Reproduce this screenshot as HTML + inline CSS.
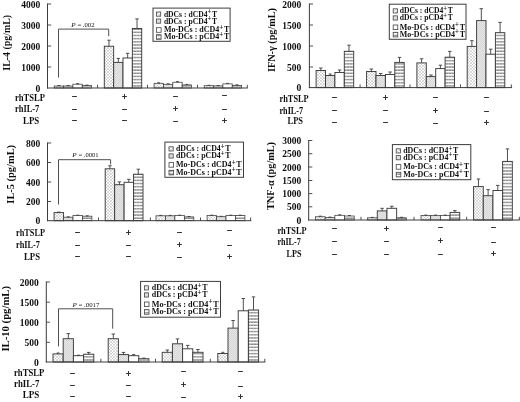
<!DOCTYPE html>
<html><head><meta charset="utf-8"><title>Cytokine production figure</title>
<style>html,body{margin:0;padding:0;background:#fff}svg{display:block}text{font-family:"Liberation Serif","DejaVu Serif",serif;fill:#111}</style></head><body>
<svg width="520" height="402" viewBox="0 0 520 402">
<defs>
<pattern id="p1" width="3" height="3" patternUnits="userSpaceOnUse"><rect width="3" height="3" fill="#fff"/><path d="M0 0L3 3M3 0L0 3" stroke="#a2a2a2" stroke-width="0.4"/></pattern>
<pattern id="p2" width="2" height="2" patternUnits="userSpaceOnUse"><rect width="2" height="2" fill="#e6e6e6"/><rect width="1" height="1" fill="#d6d6d6"/><rect x="1" y="1" width="1" height="1" fill="#d6d6d6"/></pattern>
<pattern id="p4" width="3" height="3.15" patternUnits="userSpaceOnUse"><rect width="3" height="3.15" fill="#fff"/><rect y="0.2" width="3" height="1.4" fill="#8a8a8a"/><rect x="1.1" y="0.2" width="0.7" height="1.4" fill="#b8b8b8"/></pattern>
<filter id="soft" x="0" y="0" width="520" height="402" filterUnits="userSpaceOnUse"><feGaussianBlur stdDeviation="0.38"/></filter>
</defs>
<rect width="520" height="402" fill="#fff"/>
<g filter="url(#soft)">
<rect x="54.20" y="86.00" width="9.35" height="2.00" fill="url(#p1)" stroke="#3c3c3c" stroke-width="0.75"/>
<line x1="58.88" y1="86.00" x2="58.88" y2="85.50" stroke="#3c3c3c" stroke-width="0.9"/>
<line x1="57.38" y1="85.50" x2="60.38" y2="85.50" stroke="#3c3c3c" stroke-width="0.9"/>
<rect x="63.55" y="86.00" width="9.35" height="2.00" fill="url(#p2)" stroke="#3c3c3c" stroke-width="0.75"/>
<line x1="68.23" y1="86.00" x2="68.23" y2="85.50" stroke="#3c3c3c" stroke-width="0.9"/>
<line x1="66.73" y1="85.50" x2="69.73" y2="85.50" stroke="#3c3c3c" stroke-width="0.9"/>
<rect x="72.90" y="84.20" width="9.35" height="3.80" fill="#fff" stroke="#3c3c3c" stroke-width="0.75"/>
<line x1="77.58" y1="84.20" x2="77.58" y2="83.70" stroke="#3c3c3c" stroke-width="0.9"/>
<line x1="76.08" y1="83.70" x2="79.08" y2="83.70" stroke="#3c3c3c" stroke-width="0.9"/>
<rect x="82.25" y="85.60" width="9.35" height="2.40" fill="url(#p4)" stroke="#3c3c3c" stroke-width="0.75"/>
<line x1="86.92" y1="85.60" x2="86.92" y2="85.10" stroke="#3c3c3c" stroke-width="0.9"/>
<line x1="85.42" y1="85.10" x2="88.42" y2="85.10" stroke="#3c3c3c" stroke-width="0.9"/>
<rect x="104.30" y="46.25" width="9.35" height="41.75" fill="url(#p1)" stroke="#3c3c3c" stroke-width="0.95"/>
<line x1="108.97" y1="46.25" x2="108.97" y2="40.20" stroke="#3c3c3c" stroke-width="0.9"/>
<line x1="107.22" y1="40.20" x2="110.72" y2="40.20" stroke="#3c3c3c" stroke-width="0.9"/>
<rect x="113.65" y="62.40" width="9.35" height="25.60" fill="url(#p2)" stroke="#3c3c3c" stroke-width="0.95"/>
<line x1="118.32" y1="62.40" x2="118.32" y2="58.40" stroke="#3c3c3c" stroke-width="0.9"/>
<line x1="116.57" y1="58.40" x2="120.07" y2="58.40" stroke="#3c3c3c" stroke-width="0.9"/>
<rect x="123.00" y="58.00" width="9.35" height="30.00" fill="#fff" stroke="#3c3c3c" stroke-width="0.95"/>
<line x1="127.67" y1="58.00" x2="127.67" y2="53.30" stroke="#3c3c3c" stroke-width="0.9"/>
<line x1="125.92" y1="53.30" x2="129.43" y2="53.30" stroke="#3c3c3c" stroke-width="0.9"/>
<rect x="132.35" y="28.50" width="9.35" height="59.50" fill="url(#p4)" stroke="#3c3c3c" stroke-width="0.95"/>
<line x1="137.03" y1="28.50" x2="137.03" y2="18.90" stroke="#3c3c3c" stroke-width="0.9"/>
<line x1="135.28" y1="18.90" x2="138.78" y2="18.90" stroke="#3c3c3c" stroke-width="0.9"/>
<rect x="154.10" y="83.30" width="9.35" height="4.70" fill="url(#p1)" stroke="#3c3c3c" stroke-width="0.75"/>
<line x1="158.78" y1="83.30" x2="158.78" y2="82.80" stroke="#3c3c3c" stroke-width="0.9"/>
<line x1="157.28" y1="82.80" x2="160.28" y2="82.80" stroke="#3c3c3c" stroke-width="0.9"/>
<rect x="163.45" y="84.30" width="9.35" height="3.70" fill="url(#p2)" stroke="#3c3c3c" stroke-width="0.75"/>
<line x1="168.12" y1="84.30" x2="168.12" y2="83.80" stroke="#3c3c3c" stroke-width="0.9"/>
<line x1="166.62" y1="83.80" x2="169.62" y2="83.80" stroke="#3c3c3c" stroke-width="0.9"/>
<rect x="172.80" y="82.25" width="9.35" height="5.75" fill="#fff" stroke="#3c3c3c" stroke-width="0.75"/>
<line x1="177.47" y1="82.25" x2="177.47" y2="81.70" stroke="#3c3c3c" stroke-width="0.9"/>
<line x1="175.97" y1="81.70" x2="178.97" y2="81.70" stroke="#3c3c3c" stroke-width="0.9"/>
<rect x="182.15" y="84.90" width="9.35" height="3.10" fill="url(#p4)" stroke="#3c3c3c" stroke-width="0.75"/>
<line x1="186.82" y1="84.90" x2="186.82" y2="84.40" stroke="#3c3c3c" stroke-width="0.9"/>
<line x1="185.32" y1="84.40" x2="188.32" y2="84.40" stroke="#3c3c3c" stroke-width="0.9"/>
<rect x="204.20" y="85.70" width="9.35" height="2.30" fill="url(#p1)" stroke="#3c3c3c" stroke-width="0.75"/>
<line x1="208.88" y1="85.70" x2="208.88" y2="85.30" stroke="#3c3c3c" stroke-width="0.9"/>
<line x1="207.38" y1="85.30" x2="210.38" y2="85.30" stroke="#3c3c3c" stroke-width="0.9"/>
<rect x="213.55" y="85.90" width="9.35" height="2.10" fill="url(#p2)" stroke="#3c3c3c" stroke-width="0.75"/>
<line x1="218.22" y1="85.90" x2="218.22" y2="85.50" stroke="#3c3c3c" stroke-width="0.9"/>
<line x1="216.72" y1="85.50" x2="219.72" y2="85.50" stroke="#3c3c3c" stroke-width="0.9"/>
<rect x="222.90" y="83.90" width="9.35" height="4.10" fill="#fff" stroke="#3c3c3c" stroke-width="0.75"/>
<line x1="227.57" y1="83.90" x2="227.57" y2="83.40" stroke="#3c3c3c" stroke-width="0.9"/>
<line x1="226.07" y1="83.40" x2="229.07" y2="83.40" stroke="#3c3c3c" stroke-width="0.9"/>
<rect x="232.25" y="85.30" width="9.35" height="2.70" fill="url(#p4)" stroke="#3c3c3c" stroke-width="0.75"/>
<line x1="236.93" y1="85.30" x2="236.93" y2="84.90" stroke="#3c3c3c" stroke-width="0.9"/>
<line x1="235.43" y1="84.90" x2="238.43" y2="84.90" stroke="#3c3c3c" stroke-width="0.9"/>
<line x1="47.50" y1="3.50" x2="47.50" y2="88.50" stroke="#3c3c3c" stroke-width="1.0"/>
<line x1="47.00" y1="88.00" x2="247.80" y2="88.00" stroke="#3c3c3c" stroke-width="1.0"/>
<line x1="47.50" y1="4.00" x2="51.10" y2="4.00" stroke="#3c3c3c" stroke-width="0.9"/>
<text x="40.20" y="7.50" font-size="10" font-weight="bold" font-style="normal" text-anchor="end" textLength="19.0" lengthAdjust="spacingAndGlyphs">4000</text>
<line x1="47.50" y1="25.00" x2="51.10" y2="25.00" stroke="#3c3c3c" stroke-width="0.9"/>
<text x="40.20" y="28.50" font-size="10" font-weight="bold" font-style="normal" text-anchor="end" textLength="19.0" lengthAdjust="spacingAndGlyphs">3000</text>
<line x1="47.50" y1="46.00" x2="51.10" y2="46.00" stroke="#3c3c3c" stroke-width="0.9"/>
<text x="40.20" y="49.50" font-size="10" font-weight="bold" font-style="normal" text-anchor="end" textLength="19.0" lengthAdjust="spacingAndGlyphs">2000</text>
<line x1="47.50" y1="67.00" x2="51.10" y2="67.00" stroke="#3c3c3c" stroke-width="0.9"/>
<text x="40.20" y="70.50" font-size="10" font-weight="bold" font-style="normal" text-anchor="end" textLength="19.0" lengthAdjust="spacingAndGlyphs">1000</text>
<text x="40.20" y="91.50" font-size="10" font-weight="bold" font-style="normal" text-anchor="end" textLength="4.8" lengthAdjust="spacingAndGlyphs">0</text>
<line x1="97.50" y1="88.00" x2="97.50" y2="84.80" stroke="#3c3c3c" stroke-width="0.9"/>
<line x1="147.50" y1="88.00" x2="147.50" y2="84.80" stroke="#3c3c3c" stroke-width="0.9"/>
<line x1="197.50" y1="88.00" x2="197.50" y2="84.80" stroke="#3c3c3c" stroke-width="0.9"/>
<line x1="247.30" y1="88.00" x2="247.30" y2="84.80" stroke="#3c3c3c" stroke-width="0.9"/>
<text transform="translate(9.65,42.80) rotate(-90)" font-size="10.6" font-weight="bold" text-anchor="middle" textLength="55.7" lengthAdjust="spacingAndGlyphs">IL-4 (pg/mL)</text>
<rect x="153.00" y="8.10" width="77.10" height="33.20" fill="#fff" stroke="#3c3c3c" stroke-width="1"/>
<rect x="156.50" y="12.00" width="4.2" height="4.2" fill="url(#p1)" stroke="#444" stroke-width="0.8"/>
<text x="163.90" y="16.50" font-size="8.7" font-weight="bold" textLength="53.1" lengthAdjust="spacingAndGlyphs">dDCs : dCD4<tspan dy="-2.8" font-size="7.5">+</tspan><tspan dy="2.8" dx="0.8">T</tspan></text>
<rect x="156.50" y="19.00" width="4.2" height="4.2" fill="url(#p2)" stroke="#444" stroke-width="0.8"/>
<text x="163.90" y="23.50" font-size="8.7" font-weight="bold" textLength="53.1" lengthAdjust="spacingAndGlyphs">dDCs : pCD4<tspan dy="-2.8" font-size="7.5">+</tspan><tspan dy="2.8" dx="0.8">T</tspan></text>
<rect x="156.50" y="27.70" width="4.6" height="4.6" fill="#fff" stroke="#444" stroke-width="0.8"/>
<text x="163.90" y="32.40" font-size="8.7" font-weight="bold" textLength="65.4" lengthAdjust="spacingAndGlyphs">Mo-DCs : dCD4<tspan dy="-2.8" font-size="7.5">+</tspan><tspan dy="2.8" dx="0.8">T</tspan></text>
<rect x="156.50" y="34.70" width="4.6" height="4.6" fill="url(#p4)" stroke="#444" stroke-width="0.8"/>
<text x="163.90" y="39.40" font-size="8.7" font-weight="bold" textLength="65.4" lengthAdjust="spacingAndGlyphs">Mo-DCs : pCD4<tspan dy="-2.8" font-size="7.5">+</tspan><tspan dy="2.8" dx="0.8">T</tspan></text>
<polyline points="58.50,77.50 58.50,29.10 108.70,29.10 108.70,36.20" fill="none" stroke="#3c3c3c" stroke-width="0.9"/>
<text x="71.25" y="27.30" font-size="7" font-style="italic" font-weight="normal">P</text>
<text x="77.45" y="27.30" font-size="7" font-weight="normal" textLength="17.1" lengthAdjust="spacingAndGlyphs">= .002</text>
<text x="15.00" y="101.00" font-size="10" font-weight="bold" font-style="normal" text-anchor="start" textLength="30.0" lengthAdjust="spacingAndGlyphs">rhTSLP</text>
<text x="15.00" y="112.20" font-size="10" font-weight="bold" font-style="normal" text-anchor="start" textLength="24.3" lengthAdjust="spacingAndGlyphs">rhIL-7</text>
<text x="23.00" y="123.50" font-size="10" font-weight="bold" font-style="normal" text-anchor="start" textLength="16.3" lengthAdjust="spacingAndGlyphs">LPS</text>
<line x1="72.10" y1="96.50" x2="76.90" y2="96.50" stroke="#333" stroke-width="1.0"/>
<line x1="72.10" y1="109.50" x2="76.90" y2="109.50" stroke="#333" stroke-width="1.0"/>
<line x1="72.10" y1="120.50" x2="76.90" y2="120.50" stroke="#333" stroke-width="1.0"/>
<line x1="122.10" y1="96.50" x2="126.90" y2="96.50" stroke="#333" stroke-width="1.0"/>
<line x1="124.50" y1="94.00" x2="124.50" y2="99.00" stroke="#333" stroke-width="1.0"/>
<line x1="122.10" y1="109.50" x2="126.90" y2="109.50" stroke="#333" stroke-width="1.0"/>
<line x1="122.10" y1="120.50" x2="126.90" y2="120.50" stroke="#333" stroke-width="1.0"/>
<line x1="173.10" y1="96.50" x2="177.90" y2="96.50" stroke="#333" stroke-width="1.0"/>
<line x1="173.10" y1="108.50" x2="177.90" y2="108.50" stroke="#333" stroke-width="1.0"/>
<line x1="175.50" y1="106.00" x2="175.50" y2="111.00" stroke="#333" stroke-width="1.0"/>
<line x1="173.10" y1="121.50" x2="177.90" y2="121.50" stroke="#333" stroke-width="1.0"/>
<line x1="222.10" y1="95.50" x2="226.90" y2="95.50" stroke="#333" stroke-width="1.0"/>
<line x1="222.10" y1="109.50" x2="226.90" y2="109.50" stroke="#333" stroke-width="1.0"/>
<line x1="222.10" y1="120.50" x2="226.90" y2="120.50" stroke="#333" stroke-width="1.0"/>
<line x1="224.50" y1="118.00" x2="224.50" y2="123.00" stroke="#333" stroke-width="1.0"/>
<rect x="316.10" y="70.50" width="9.40" height="17.10" fill="url(#p1)" stroke="#3c3c3c" stroke-width="0.95"/>
<line x1="320.80" y1="70.50" x2="320.80" y2="68.00" stroke="#3c3c3c" stroke-width="0.9"/>
<line x1="319.05" y1="68.00" x2="322.55" y2="68.00" stroke="#3c3c3c" stroke-width="0.9"/>
<rect x="325.50" y="75.50" width="9.40" height="12.10" fill="url(#p2)" stroke="#3c3c3c" stroke-width="0.95"/>
<line x1="330.20" y1="75.50" x2="330.20" y2="74.00" stroke="#3c3c3c" stroke-width="0.9"/>
<line x1="328.70" y1="74.00" x2="331.70" y2="74.00" stroke="#3c3c3c" stroke-width="0.9"/>
<rect x="334.90" y="72.50" width="9.40" height="15.10" fill="#fff" stroke="#3c3c3c" stroke-width="0.95"/>
<line x1="339.60" y1="72.50" x2="339.60" y2="70.00" stroke="#3c3c3c" stroke-width="0.9"/>
<line x1="337.85" y1="70.00" x2="341.35" y2="70.00" stroke="#3c3c3c" stroke-width="0.9"/>
<rect x="344.30" y="51.30" width="9.40" height="36.30" fill="url(#p4)" stroke="#3c3c3c" stroke-width="0.95"/>
<line x1="349.00" y1="51.30" x2="349.00" y2="45.20" stroke="#3c3c3c" stroke-width="0.9"/>
<line x1="347.25" y1="45.20" x2="350.75" y2="45.20" stroke="#3c3c3c" stroke-width="0.9"/>
<rect x="366.60" y="71.50" width="9.40" height="16.10" fill="url(#p1)" stroke="#3c3c3c" stroke-width="0.95"/>
<line x1="371.30" y1="71.50" x2="371.30" y2="69.00" stroke="#3c3c3c" stroke-width="0.9"/>
<line x1="369.55" y1="69.00" x2="373.05" y2="69.00" stroke="#3c3c3c" stroke-width="0.9"/>
<rect x="376.00" y="75.50" width="9.40" height="12.10" fill="url(#p2)" stroke="#3c3c3c" stroke-width="0.95"/>
<line x1="380.70" y1="75.50" x2="380.70" y2="73.50" stroke="#3c3c3c" stroke-width="0.9"/>
<line x1="378.95" y1="73.50" x2="382.45" y2="73.50" stroke="#3c3c3c" stroke-width="0.9"/>
<rect x="385.40" y="74.50" width="9.40" height="13.10" fill="#fff" stroke="#3c3c3c" stroke-width="0.95"/>
<line x1="390.10" y1="74.50" x2="390.10" y2="72.00" stroke="#3c3c3c" stroke-width="0.9"/>
<line x1="388.35" y1="72.00" x2="391.85" y2="72.00" stroke="#3c3c3c" stroke-width="0.9"/>
<rect x="394.80" y="62.40" width="9.40" height="25.20" fill="url(#p4)" stroke="#3c3c3c" stroke-width="0.95"/>
<line x1="399.50" y1="62.40" x2="399.50" y2="57.40" stroke="#3c3c3c" stroke-width="0.9"/>
<line x1="397.75" y1="57.40" x2="401.25" y2="57.40" stroke="#3c3c3c" stroke-width="0.9"/>
<rect x="416.90" y="62.90" width="9.40" height="24.70" fill="url(#p1)" stroke="#3c3c3c" stroke-width="0.95"/>
<line x1="421.60" y1="62.90" x2="421.60" y2="58.80" stroke="#3c3c3c" stroke-width="0.9"/>
<line x1="419.85" y1="58.80" x2="423.35" y2="58.80" stroke="#3c3c3c" stroke-width="0.9"/>
<rect x="426.30" y="76.60" width="9.40" height="11.00" fill="url(#p2)" stroke="#3c3c3c" stroke-width="0.95"/>
<line x1="431.00" y1="76.60" x2="431.00" y2="75.00" stroke="#3c3c3c" stroke-width="0.9"/>
<line x1="429.25" y1="75.00" x2="432.75" y2="75.00" stroke="#3c3c3c" stroke-width="0.9"/>
<rect x="435.70" y="68.60" width="9.40" height="19.00" fill="#fff" stroke="#3c3c3c" stroke-width="0.95"/>
<line x1="440.40" y1="68.60" x2="440.40" y2="65.20" stroke="#3c3c3c" stroke-width="0.9"/>
<line x1="438.65" y1="65.20" x2="442.15" y2="65.20" stroke="#3c3c3c" stroke-width="0.9"/>
<rect x="445.10" y="57.20" width="9.40" height="30.40" fill="url(#p4)" stroke="#3c3c3c" stroke-width="0.95"/>
<line x1="449.80" y1="57.20" x2="449.80" y2="51.40" stroke="#3c3c3c" stroke-width="0.9"/>
<line x1="448.05" y1="51.40" x2="451.55" y2="51.40" stroke="#3c3c3c" stroke-width="0.9"/>
<rect x="467.20" y="46.40" width="9.40" height="41.20" fill="url(#p1)" stroke="#3c3c3c" stroke-width="0.95"/>
<line x1="471.90" y1="46.40" x2="471.90" y2="40.70" stroke="#3c3c3c" stroke-width="0.9"/>
<line x1="470.15" y1="40.70" x2="473.65" y2="40.70" stroke="#3c3c3c" stroke-width="0.9"/>
<rect x="476.60" y="20.60" width="9.40" height="67.00" fill="url(#p2)" stroke="#3c3c3c" stroke-width="0.95"/>
<line x1="481.30" y1="20.60" x2="481.30" y2="8.70" stroke="#3c3c3c" stroke-width="0.9"/>
<line x1="479.55" y1="8.70" x2="483.05" y2="8.70" stroke="#3c3c3c" stroke-width="0.9"/>
<rect x="486.00" y="54.20" width="9.40" height="33.40" fill="#fff" stroke="#3c3c3c" stroke-width="0.95"/>
<line x1="490.70" y1="54.20" x2="490.70" y2="49.20" stroke="#3c3c3c" stroke-width="0.9"/>
<line x1="488.95" y1="49.20" x2="492.45" y2="49.20" stroke="#3c3c3c" stroke-width="0.9"/>
<rect x="495.40" y="32.70" width="9.40" height="54.90" fill="url(#p4)" stroke="#3c3c3c" stroke-width="0.95"/>
<line x1="500.10" y1="32.70" x2="500.10" y2="22.40" stroke="#3c3c3c" stroke-width="0.9"/>
<line x1="498.35" y1="22.40" x2="501.85" y2="22.40" stroke="#3c3c3c" stroke-width="0.9"/>
<line x1="309.40" y1="3.50" x2="309.40" y2="88.10" stroke="#3c3c3c" stroke-width="1.0"/>
<line x1="308.90" y1="87.60" x2="512.10" y2="87.60" stroke="#3c3c3c" stroke-width="1.0"/>
<line x1="309.40" y1="4.00" x2="313.00" y2="4.00" stroke="#3c3c3c" stroke-width="0.9"/>
<text x="301.20" y="7.50" font-size="10" font-weight="bold" font-style="normal" text-anchor="end" textLength="19.0" lengthAdjust="spacingAndGlyphs">2000</text>
<line x1="309.40" y1="25.00" x2="313.00" y2="25.00" stroke="#3c3c3c" stroke-width="0.9"/>
<text x="301.20" y="28.50" font-size="10" font-weight="bold" font-style="normal" text-anchor="end" textLength="19.0" lengthAdjust="spacingAndGlyphs">1500</text>
<line x1="309.40" y1="46.00" x2="313.00" y2="46.00" stroke="#3c3c3c" stroke-width="0.9"/>
<text x="301.20" y="49.50" font-size="10" font-weight="bold" font-style="normal" text-anchor="end" textLength="19.0" lengthAdjust="spacingAndGlyphs">1000</text>
<line x1="309.40" y1="67.00" x2="313.00" y2="67.00" stroke="#3c3c3c" stroke-width="0.9"/>
<text x="301.20" y="70.50" font-size="10" font-weight="bold" font-style="normal" text-anchor="end" textLength="14.2" lengthAdjust="spacingAndGlyphs">500</text>
<text x="301.20" y="91.10" font-size="10" font-weight="bold" font-style="normal" text-anchor="end" textLength="4.8" lengthAdjust="spacingAndGlyphs">0</text>
<line x1="360.10" y1="87.60" x2="360.10" y2="84.40" stroke="#3c3c3c" stroke-width="0.9"/>
<line x1="410.00" y1="87.60" x2="410.00" y2="84.40" stroke="#3c3c3c" stroke-width="0.9"/>
<line x1="460.50" y1="87.60" x2="460.50" y2="84.40" stroke="#3c3c3c" stroke-width="0.9"/>
<line x1="511.30" y1="87.60" x2="511.30" y2="84.40" stroke="#3c3c3c" stroke-width="0.9"/>
<text transform="translate(274.50,40.00) rotate(-90)" font-size="10.6" font-weight="bold" text-anchor="middle" textLength="64.0" lengthAdjust="spacingAndGlyphs">IFN-γ (pg/mL)</text>
<rect x="389.30" y="4.20" width="76.70" height="35.10" fill="#fff" stroke="#3c3c3c" stroke-width="1"/>
<rect x="393.20" y="8.80" width="4.2" height="4.2" fill="url(#p1)" stroke="#444" stroke-width="0.8"/>
<text x="399.70" y="13.30" font-size="8.7" font-weight="bold" textLength="53.1" lengthAdjust="spacingAndGlyphs">dDCs : dCD4<tspan dy="-2.8" font-size="7.5">+</tspan><tspan dy="2.8" dx="0.8">T</tspan></text>
<rect x="393.20" y="15.85" width="4.2" height="4.2" fill="url(#p2)" stroke="#444" stroke-width="0.8"/>
<text x="399.70" y="20.35" font-size="8.7" font-weight="bold" textLength="53.1" lengthAdjust="spacingAndGlyphs">dDCs : pCD4<tspan dy="-2.8" font-size="7.5">+</tspan><tspan dy="2.8" dx="0.8">T</tspan></text>
<rect x="393.20" y="25.00" width="4.6" height="4.6" fill="#fff" stroke="#444" stroke-width="0.8"/>
<text x="399.70" y="29.70" font-size="8.7" font-weight="bold" textLength="65.4" lengthAdjust="spacingAndGlyphs">Mo-DCs : dCD4<tspan dy="-2.8" font-size="7.5">+</tspan><tspan dy="2.8" dx="0.8">T</tspan></text>
<rect x="393.20" y="32.30" width="4.6" height="4.6" fill="url(#p4)" stroke="#444" stroke-width="0.8"/>
<text x="399.70" y="37.00" font-size="8.7" font-weight="bold" textLength="65.4" lengthAdjust="spacingAndGlyphs">Mo-DCs : pCD4<tspan dy="-2.8" font-size="7.5">+</tspan><tspan dy="2.8" dx="0.8">T</tspan></text>
<text x="279.50" y="101.95" font-size="10" font-weight="bold" font-style="normal" text-anchor="start" textLength="29.2" lengthAdjust="spacingAndGlyphs">rhTSLP</text>
<text x="279.50" y="114.20" font-size="10" font-weight="bold" font-style="normal" text-anchor="start" textLength="23.5" lengthAdjust="spacingAndGlyphs">rhIL-7</text>
<text x="287.50" y="124.20" font-size="10" font-weight="bold" font-style="normal" text-anchor="start" textLength="15.5" lengthAdjust="spacingAndGlyphs">LPS</text>
<line x1="332.10" y1="97.50" x2="336.90" y2="97.50" stroke="#333" stroke-width="1.0"/>
<line x1="332.10" y1="110.50" x2="336.90" y2="110.50" stroke="#333" stroke-width="1.0"/>
<line x1="332.10" y1="122.50" x2="336.90" y2="122.50" stroke="#333" stroke-width="1.0"/>
<line x1="383.10" y1="97.50" x2="387.90" y2="97.50" stroke="#333" stroke-width="1.0"/>
<line x1="385.50" y1="95.00" x2="385.50" y2="100.00" stroke="#333" stroke-width="1.0"/>
<line x1="383.10" y1="110.50" x2="387.90" y2="110.50" stroke="#333" stroke-width="1.0"/>
<line x1="383.10" y1="122.50" x2="387.90" y2="122.50" stroke="#333" stroke-width="1.0"/>
<line x1="433.10" y1="97.50" x2="437.90" y2="97.50" stroke="#333" stroke-width="1.0"/>
<line x1="433.10" y1="110.50" x2="437.90" y2="110.50" stroke="#333" stroke-width="1.0"/>
<line x1="435.50" y1="108.00" x2="435.50" y2="113.00" stroke="#333" stroke-width="1.0"/>
<line x1="433.10" y1="123.50" x2="437.90" y2="123.50" stroke="#333" stroke-width="1.0"/>
<line x1="484.10" y1="97.50" x2="488.90" y2="97.50" stroke="#333" stroke-width="1.0"/>
<line x1="484.10" y1="111.50" x2="488.90" y2="111.50" stroke="#333" stroke-width="1.0"/>
<line x1="484.10" y1="122.50" x2="488.90" y2="122.50" stroke="#333" stroke-width="1.0"/>
<line x1="486.50" y1="120.00" x2="486.50" y2="125.00" stroke="#333" stroke-width="1.0"/>
<rect x="54.10" y="212.60" width="9.45" height="8.10" fill="url(#p1)" stroke="#3c3c3c" stroke-width="0.95"/>
<line x1="58.83" y1="212.60" x2="58.83" y2="212.10" stroke="#3c3c3c" stroke-width="0.9"/>
<line x1="57.33" y1="212.10" x2="60.33" y2="212.10" stroke="#3c3c3c" stroke-width="0.9"/>
<rect x="63.55" y="217.20" width="9.45" height="3.50" fill="url(#p2)" stroke="#3c3c3c" stroke-width="0.75"/>
<line x1="68.27" y1="217.20" x2="68.27" y2="216.80" stroke="#3c3c3c" stroke-width="0.9"/>
<line x1="66.77" y1="216.80" x2="69.77" y2="216.80" stroke="#3c3c3c" stroke-width="0.9"/>
<rect x="73.00" y="215.60" width="9.45" height="5.10" fill="#fff" stroke="#3c3c3c" stroke-width="0.75"/>
<line x1="77.72" y1="215.60" x2="77.72" y2="215.20" stroke="#3c3c3c" stroke-width="0.9"/>
<line x1="76.22" y1="215.20" x2="79.22" y2="215.20" stroke="#3c3c3c" stroke-width="0.9"/>
<rect x="82.45" y="216.20" width="9.45" height="4.50" fill="url(#p4)" stroke="#3c3c3c" stroke-width="0.75"/>
<line x1="87.17" y1="216.20" x2="87.17" y2="215.80" stroke="#3c3c3c" stroke-width="0.9"/>
<line x1="85.67" y1="215.80" x2="88.67" y2="215.80" stroke="#3c3c3c" stroke-width="0.9"/>
<rect x="105.20" y="168.80" width="9.45" height="51.90" fill="url(#p1)" stroke="#3c3c3c" stroke-width="0.95"/>
<line x1="109.92" y1="168.80" x2="109.92" y2="165.75" stroke="#3c3c3c" stroke-width="0.9"/>
<line x1="108.17" y1="165.75" x2="111.67" y2="165.75" stroke="#3c3c3c" stroke-width="0.9"/>
<rect x="114.65" y="184.70" width="9.45" height="36.00" fill="url(#p2)" stroke="#3c3c3c" stroke-width="0.95"/>
<line x1="119.38" y1="184.70" x2="119.38" y2="181.90" stroke="#3c3c3c" stroke-width="0.9"/>
<line x1="117.62" y1="181.90" x2="121.12" y2="181.90" stroke="#3c3c3c" stroke-width="0.9"/>
<rect x="124.10" y="182.30" width="9.45" height="38.40" fill="#fff" stroke="#3c3c3c" stroke-width="0.95"/>
<line x1="128.82" y1="182.30" x2="128.82" y2="179.30" stroke="#3c3c3c" stroke-width="0.9"/>
<line x1="127.07" y1="179.30" x2="130.57" y2="179.30" stroke="#3c3c3c" stroke-width="0.9"/>
<rect x="133.55" y="174.20" width="9.45" height="46.50" fill="url(#p4)" stroke="#3c3c3c" stroke-width="0.95"/>
<line x1="138.28" y1="174.20" x2="138.28" y2="169.20" stroke="#3c3c3c" stroke-width="0.9"/>
<line x1="136.53" y1="169.20" x2="140.03" y2="169.20" stroke="#3c3c3c" stroke-width="0.9"/>
<rect x="156.00" y="215.80" width="9.45" height="4.90" fill="url(#p1)" stroke="#3c3c3c" stroke-width="0.75"/>
<line x1="160.72" y1="215.80" x2="160.72" y2="215.40" stroke="#3c3c3c" stroke-width="0.9"/>
<line x1="159.22" y1="215.40" x2="162.22" y2="215.40" stroke="#3c3c3c" stroke-width="0.9"/>
<rect x="165.45" y="215.80" width="9.45" height="4.90" fill="url(#p2)" stroke="#3c3c3c" stroke-width="0.75"/>
<line x1="170.17" y1="215.80" x2="170.17" y2="215.40" stroke="#3c3c3c" stroke-width="0.9"/>
<line x1="168.67" y1="215.40" x2="171.67" y2="215.40" stroke="#3c3c3c" stroke-width="0.9"/>
<rect x="174.90" y="215.60" width="9.45" height="5.10" fill="#fff" stroke="#3c3c3c" stroke-width="0.75"/>
<line x1="179.62" y1="215.60" x2="179.62" y2="215.20" stroke="#3c3c3c" stroke-width="0.9"/>
<line x1="178.12" y1="215.20" x2="181.12" y2="215.20" stroke="#3c3c3c" stroke-width="0.9"/>
<rect x="184.35" y="216.90" width="9.45" height="3.80" fill="url(#p4)" stroke="#3c3c3c" stroke-width="0.75"/>
<line x1="189.07" y1="216.90" x2="189.07" y2="216.50" stroke="#3c3c3c" stroke-width="0.9"/>
<line x1="187.57" y1="216.50" x2="190.57" y2="216.50" stroke="#3c3c3c" stroke-width="0.9"/>
<rect x="207.10" y="215.60" width="9.45" height="5.10" fill="url(#p1)" stroke="#3c3c3c" stroke-width="0.75"/>
<line x1="211.82" y1="215.60" x2="211.82" y2="215.20" stroke="#3c3c3c" stroke-width="0.9"/>
<line x1="210.32" y1="215.20" x2="213.32" y2="215.20" stroke="#3c3c3c" stroke-width="0.9"/>
<rect x="216.55" y="216.70" width="9.45" height="4.00" fill="url(#p2)" stroke="#3c3c3c" stroke-width="0.75"/>
<line x1="221.27" y1="216.70" x2="221.27" y2="216.30" stroke="#3c3c3c" stroke-width="0.9"/>
<line x1="219.77" y1="216.30" x2="222.77" y2="216.30" stroke="#3c3c3c" stroke-width="0.9"/>
<rect x="226.00" y="215.60" width="9.45" height="5.10" fill="#fff" stroke="#3c3c3c" stroke-width="0.75"/>
<line x1="230.72" y1="215.60" x2="230.72" y2="215.20" stroke="#3c3c3c" stroke-width="0.9"/>
<line x1="229.22" y1="215.20" x2="232.22" y2="215.20" stroke="#3c3c3c" stroke-width="0.9"/>
<rect x="235.45" y="215.60" width="9.45" height="5.10" fill="url(#p4)" stroke="#3c3c3c" stroke-width="0.75"/>
<line x1="240.17" y1="215.60" x2="240.17" y2="215.20" stroke="#3c3c3c" stroke-width="0.9"/>
<line x1="238.67" y1="215.20" x2="241.67" y2="215.20" stroke="#3c3c3c" stroke-width="0.9"/>
<line x1="47.50" y1="142.50" x2="47.50" y2="221.20" stroke="#3c3c3c" stroke-width="1.0"/>
<line x1="47.00" y1="220.70" x2="251.30" y2="220.70" stroke="#3c3c3c" stroke-width="1.0"/>
<line x1="47.50" y1="143.00" x2="51.10" y2="143.00" stroke="#3c3c3c" stroke-width="0.9"/>
<text x="40.20" y="146.50" font-size="10" font-weight="bold" font-style="normal" text-anchor="end" textLength="14.2" lengthAdjust="spacingAndGlyphs">800</text>
<line x1="47.50" y1="162.50" x2="51.10" y2="162.50" stroke="#3c3c3c" stroke-width="0.9"/>
<text x="40.20" y="166.00" font-size="10" font-weight="bold" font-style="normal" text-anchor="end" textLength="14.2" lengthAdjust="spacingAndGlyphs">600</text>
<line x1="47.50" y1="182.00" x2="51.10" y2="182.00" stroke="#3c3c3c" stroke-width="0.9"/>
<text x="40.20" y="185.50" font-size="10" font-weight="bold" font-style="normal" text-anchor="end" textLength="14.2" lengthAdjust="spacingAndGlyphs">400</text>
<line x1="47.50" y1="201.50" x2="51.10" y2="201.50" stroke="#3c3c3c" stroke-width="0.9"/>
<text x="40.20" y="205.00" font-size="10" font-weight="bold" font-style="normal" text-anchor="end" textLength="14.2" lengthAdjust="spacingAndGlyphs">200</text>
<text x="40.20" y="224.20" font-size="10" font-weight="bold" font-style="normal" text-anchor="end" textLength="4.8" lengthAdjust="spacingAndGlyphs">0</text>
<line x1="98.50" y1="220.70" x2="98.50" y2="217.50" stroke="#3c3c3c" stroke-width="0.9"/>
<line x1="150.40" y1="220.70" x2="150.40" y2="217.50" stroke="#3c3c3c" stroke-width="0.9"/>
<line x1="200.50" y1="220.70" x2="200.50" y2="217.50" stroke="#3c3c3c" stroke-width="0.9"/>
<line x1="250.60" y1="220.70" x2="250.60" y2="217.50" stroke="#3c3c3c" stroke-width="0.9"/>
<text transform="translate(14.45,174.30) rotate(-90)" font-size="10.6" font-weight="bold" text-anchor="middle" textLength="58.7" lengthAdjust="spacingAndGlyphs">IL-5 (pg/mL)</text>
<rect x="164.90" y="142.10" width="78.60" height="35.20" fill="#fff" stroke="#3c3c3c" stroke-width="1"/>
<rect x="169.00" y="146.80" width="4.2" height="4.2" fill="url(#p1)" stroke="#444" stroke-width="0.8"/>
<text x="175.90" y="151.30" font-size="8.7" font-weight="bold" textLength="54.7" lengthAdjust="spacingAndGlyphs">dDCs : dCD4<tspan dy="-2.8" font-size="7.5">+</tspan><tspan dy="2.8" dx="0.8">T</tspan></text>
<rect x="169.00" y="153.85" width="4.2" height="4.2" fill="url(#p2)" stroke="#444" stroke-width="0.8"/>
<text x="175.90" y="158.35" font-size="8.7" font-weight="bold" textLength="54.7" lengthAdjust="spacingAndGlyphs">dDCs : pCD4<tspan dy="-2.8" font-size="7.5">+</tspan><tspan dy="2.8" dx="0.8">T</tspan></text>
<rect x="169.00" y="162.60" width="4.6" height="4.6" fill="#fff" stroke="#444" stroke-width="0.8"/>
<text x="175.90" y="167.30" font-size="8.7" font-weight="bold" textLength="65.8" lengthAdjust="spacingAndGlyphs">Mo-DCs : dCD4<tspan dy="-2.8" font-size="7.5">+</tspan><tspan dy="2.8" dx="0.8">T</tspan></text>
<rect x="169.00" y="170.30" width="4.6" height="4.6" fill="url(#p4)" stroke="#444" stroke-width="0.8"/>
<text x="175.90" y="175.00" font-size="8.7" font-weight="bold" textLength="65.8" lengthAdjust="spacingAndGlyphs">Mo-DCs : pCD4<tspan dy="-2.8" font-size="7.5">+</tspan><tspan dy="2.8" dx="0.8">T</tspan></text>
<polyline points="58.50,204.50 58.50,159.70 110.60,159.70 110.60,164.50" fill="none" stroke="#3c3c3c" stroke-width="0.9"/>
<text x="72.30" y="156.70" font-size="7" font-style="italic" font-weight="normal">P</text>
<text x="78.50" y="156.70" font-size="7" font-weight="normal" textLength="20.0" lengthAdjust="spacingAndGlyphs">= .0001</text>
<text x="16.00" y="236.20" font-size="10" font-weight="bold" font-style="normal" text-anchor="start" textLength="29.0" lengthAdjust="spacingAndGlyphs">rhTSLP</text>
<text x="16.00" y="247.70" font-size="10" font-weight="bold" font-style="normal" text-anchor="start" textLength="24.0" lengthAdjust="spacingAndGlyphs">rhIL-7</text>
<text x="24.00" y="259.50" font-size="10" font-weight="bold" font-style="normal" text-anchor="start" textLength="16.0" lengthAdjust="spacingAndGlyphs">LPS</text>
<line x1="75.10" y1="232.50" x2="79.90" y2="232.50" stroke="#333" stroke-width="1.0"/>
<line x1="75.10" y1="245.50" x2="79.90" y2="245.50" stroke="#333" stroke-width="1.0"/>
<line x1="75.10" y1="256.50" x2="79.90" y2="256.50" stroke="#333" stroke-width="1.0"/>
<line x1="126.10" y1="232.50" x2="130.90" y2="232.50" stroke="#333" stroke-width="1.0"/>
<line x1="128.50" y1="230.00" x2="128.50" y2="235.00" stroke="#333" stroke-width="1.0"/>
<line x1="126.10" y1="245.50" x2="130.90" y2="245.50" stroke="#333" stroke-width="1.0"/>
<line x1="126.10" y1="256.50" x2="130.90" y2="256.50" stroke="#333" stroke-width="1.0"/>
<line x1="177.10" y1="232.50" x2="181.90" y2="232.50" stroke="#333" stroke-width="1.0"/>
<line x1="177.10" y1="244.50" x2="181.90" y2="244.50" stroke="#333" stroke-width="1.0"/>
<line x1="179.50" y1="242.00" x2="179.50" y2="247.00" stroke="#333" stroke-width="1.0"/>
<line x1="177.10" y1="257.50" x2="181.90" y2="257.50" stroke="#333" stroke-width="1.0"/>
<line x1="227.10" y1="230.50" x2="231.90" y2="230.50" stroke="#333" stroke-width="1.0"/>
<line x1="227.10" y1="245.50" x2="231.90" y2="245.50" stroke="#333" stroke-width="1.0"/>
<line x1="227.10" y1="256.50" x2="231.90" y2="256.50" stroke="#333" stroke-width="1.0"/>
<line x1="229.50" y1="254.00" x2="229.50" y2="259.00" stroke="#333" stroke-width="1.0"/>
<rect x="315.50" y="216.75" width="9.68" height="3.25" fill="url(#p1)" stroke="#3c3c3c" stroke-width="0.75"/>
<line x1="320.34" y1="216.75" x2="320.34" y2="216.20" stroke="#3c3c3c" stroke-width="0.9"/>
<line x1="318.84" y1="216.20" x2="321.84" y2="216.20" stroke="#3c3c3c" stroke-width="0.9"/>
<rect x="325.18" y="217.60" width="9.68" height="2.40" fill="url(#p2)" stroke="#3c3c3c" stroke-width="0.75"/>
<line x1="330.02" y1="217.60" x2="330.02" y2="217.10" stroke="#3c3c3c" stroke-width="0.9"/>
<line x1="328.52" y1="217.10" x2="331.52" y2="217.10" stroke="#3c3c3c" stroke-width="0.9"/>
<rect x="334.86" y="215.30" width="9.68" height="4.70" fill="#fff" stroke="#3c3c3c" stroke-width="0.75"/>
<line x1="339.70" y1="215.30" x2="339.70" y2="214.80" stroke="#3c3c3c" stroke-width="0.9"/>
<line x1="338.20" y1="214.80" x2="341.20" y2="214.80" stroke="#3c3c3c" stroke-width="0.9"/>
<rect x="344.54" y="216.00" width="9.68" height="4.00" fill="url(#p4)" stroke="#3c3c3c" stroke-width="0.75"/>
<line x1="349.38" y1="216.00" x2="349.38" y2="215.50" stroke="#3c3c3c" stroke-width="0.9"/>
<line x1="347.88" y1="215.50" x2="350.88" y2="215.50" stroke="#3c3c3c" stroke-width="0.9"/>
<rect x="367.60" y="217.80" width="9.68" height="2.20" fill="url(#p1)" stroke="#3c3c3c" stroke-width="0.75"/>
<line x1="372.44" y1="217.80" x2="372.44" y2="217.40" stroke="#3c3c3c" stroke-width="0.9"/>
<line x1="370.94" y1="217.40" x2="373.94" y2="217.40" stroke="#3c3c3c" stroke-width="0.9"/>
<rect x="377.28" y="210.90" width="9.68" height="9.10" fill="url(#p2)" stroke="#3c3c3c" stroke-width="0.95"/>
<line x1="382.12" y1="210.90" x2="382.12" y2="208.30" stroke="#3c3c3c" stroke-width="0.9"/>
<line x1="380.37" y1="208.30" x2="383.87" y2="208.30" stroke="#3c3c3c" stroke-width="0.9"/>
<rect x="386.96" y="208.30" width="9.68" height="11.70" fill="#fff" stroke="#3c3c3c" stroke-width="0.95"/>
<line x1="391.80" y1="208.30" x2="391.80" y2="206.25" stroke="#3c3c3c" stroke-width="0.9"/>
<line x1="390.05" y1="206.25" x2="393.55" y2="206.25" stroke="#3c3c3c" stroke-width="0.9"/>
<rect x="396.64" y="217.80" width="9.68" height="2.20" fill="url(#p4)" stroke="#3c3c3c" stroke-width="0.75"/>
<line x1="401.48" y1="217.80" x2="401.48" y2="217.30" stroke="#3c3c3c" stroke-width="0.9"/>
<line x1="399.98" y1="217.30" x2="402.98" y2="217.30" stroke="#3c3c3c" stroke-width="0.9"/>
<rect x="421.00" y="215.60" width="9.68" height="4.40" fill="url(#p1)" stroke="#3c3c3c" stroke-width="0.75"/>
<line x1="425.84" y1="215.60" x2="425.84" y2="215.10" stroke="#3c3c3c" stroke-width="0.9"/>
<line x1="424.34" y1="215.10" x2="427.34" y2="215.10" stroke="#3c3c3c" stroke-width="0.9"/>
<rect x="430.68" y="215.60" width="9.68" height="4.40" fill="url(#p2)" stroke="#3c3c3c" stroke-width="0.75"/>
<line x1="435.52" y1="215.60" x2="435.52" y2="215.10" stroke="#3c3c3c" stroke-width="0.9"/>
<line x1="434.02" y1="215.10" x2="437.02" y2="215.10" stroke="#3c3c3c" stroke-width="0.9"/>
<rect x="440.36" y="215.60" width="9.68" height="4.40" fill="#fff" stroke="#3c3c3c" stroke-width="0.75"/>
<line x1="445.20" y1="215.60" x2="445.20" y2="215.10" stroke="#3c3c3c" stroke-width="0.9"/>
<line x1="443.70" y1="215.10" x2="446.70" y2="215.10" stroke="#3c3c3c" stroke-width="0.9"/>
<rect x="450.04" y="212.40" width="9.68" height="7.60" fill="url(#p4)" stroke="#3c3c3c" stroke-width="0.95"/>
<line x1="454.88" y1="212.40" x2="454.88" y2="210.60" stroke="#3c3c3c" stroke-width="0.9"/>
<line x1="453.13" y1="210.60" x2="456.63" y2="210.60" stroke="#3c3c3c" stroke-width="0.9"/>
<rect x="473.60" y="186.60" width="9.68" height="33.40" fill="url(#p1)" stroke="#3c3c3c" stroke-width="0.95"/>
<line x1="478.44" y1="186.60" x2="478.44" y2="179.00" stroke="#3c3c3c" stroke-width="0.9"/>
<line x1="476.69" y1="179.00" x2="480.19" y2="179.00" stroke="#3c3c3c" stroke-width="0.9"/>
<rect x="483.28" y="195.70" width="9.68" height="24.30" fill="url(#p2)" stroke="#3c3c3c" stroke-width="0.95"/>
<line x1="488.12" y1="195.70" x2="488.12" y2="189.60" stroke="#3c3c3c" stroke-width="0.9"/>
<line x1="486.37" y1="189.60" x2="489.87" y2="189.60" stroke="#3c3c3c" stroke-width="0.9"/>
<rect x="492.96" y="190.50" width="9.68" height="29.50" fill="#fff" stroke="#3c3c3c" stroke-width="0.95"/>
<line x1="497.80" y1="190.50" x2="497.80" y2="185.40" stroke="#3c3c3c" stroke-width="0.9"/>
<line x1="496.05" y1="185.40" x2="499.55" y2="185.40" stroke="#3c3c3c" stroke-width="0.9"/>
<rect x="502.64" y="161.40" width="9.68" height="58.60" fill="url(#p4)" stroke="#3c3c3c" stroke-width="0.95"/>
<line x1="507.48" y1="161.40" x2="507.48" y2="148.90" stroke="#3c3c3c" stroke-width="0.9"/>
<line x1="505.73" y1="148.90" x2="509.23" y2="148.90" stroke="#3c3c3c" stroke-width="0.9"/>
<line x1="308.70" y1="140.00" x2="308.70" y2="220.50" stroke="#3c3c3c" stroke-width="1.0"/>
<line x1="308.20" y1="220.00" x2="519.80" y2="220.00" stroke="#3c3c3c" stroke-width="1.0"/>
<line x1="308.70" y1="140.50" x2="312.30" y2="140.50" stroke="#3c3c3c" stroke-width="0.9"/>
<text x="301.20" y="144.00" font-size="10" font-weight="bold" font-style="normal" text-anchor="end" textLength="19.0" lengthAdjust="spacingAndGlyphs">3000</text>
<line x1="308.70" y1="153.75" x2="312.30" y2="153.75" stroke="#3c3c3c" stroke-width="0.9"/>
<text x="301.20" y="157.25" font-size="10" font-weight="bold" font-style="normal" text-anchor="end" textLength="19.0" lengthAdjust="spacingAndGlyphs">2500</text>
<line x1="308.70" y1="167.00" x2="312.30" y2="167.00" stroke="#3c3c3c" stroke-width="0.9"/>
<text x="301.20" y="170.50" font-size="10" font-weight="bold" font-style="normal" text-anchor="end" textLength="19.0" lengthAdjust="spacingAndGlyphs">2000</text>
<line x1="308.70" y1="180.50" x2="312.30" y2="180.50" stroke="#3c3c3c" stroke-width="0.9"/>
<text x="301.20" y="184.00" font-size="10" font-weight="bold" font-style="normal" text-anchor="end" textLength="19.0" lengthAdjust="spacingAndGlyphs">1500</text>
<line x1="308.70" y1="193.60" x2="312.30" y2="193.60" stroke="#3c3c3c" stroke-width="0.9"/>
<text x="301.20" y="197.10" font-size="10" font-weight="bold" font-style="normal" text-anchor="end" textLength="19.0" lengthAdjust="spacingAndGlyphs">1000</text>
<line x1="308.70" y1="206.80" x2="312.30" y2="206.80" stroke="#3c3c3c" stroke-width="0.9"/>
<text x="301.20" y="210.30" font-size="10" font-weight="bold" font-style="normal" text-anchor="end" textLength="14.2" lengthAdjust="spacingAndGlyphs">500</text>
<text x="301.20" y="223.50" font-size="10" font-weight="bold" font-style="normal" text-anchor="end" textLength="4.8" lengthAdjust="spacingAndGlyphs">0</text>
<line x1="361.00" y1="220.00" x2="361.00" y2="216.80" stroke="#3c3c3c" stroke-width="0.9"/>
<line x1="414.00" y1="220.00" x2="414.00" y2="216.80" stroke="#3c3c3c" stroke-width="0.9"/>
<line x1="466.70" y1="220.00" x2="466.70" y2="216.80" stroke="#3c3c3c" stroke-width="0.9"/>
<line x1="519.30" y1="220.00" x2="519.30" y2="216.80" stroke="#3c3c3c" stroke-width="0.9"/>
<text transform="translate(274.00,176.00) rotate(-90)" font-size="10.6" font-weight="bold" text-anchor="middle" textLength="68.0" lengthAdjust="spacingAndGlyphs">TNF-α (pg/mL)</text>
<rect x="392.40" y="144.60" width="78.40" height="35.10" fill="#fff" stroke="#3c3c3c" stroke-width="1"/>
<rect x="396.20" y="148.80" width="4.2" height="4.2" fill="url(#p1)" stroke="#444" stroke-width="0.8"/>
<text x="403.20" y="153.30" font-size="8.7" font-weight="bold" textLength="55.1" lengthAdjust="spacingAndGlyphs">dDCs : dCD4<tspan dy="-2.8" font-size="7.5">+</tspan><tspan dy="2.8" dx="0.8">T</tspan></text>
<rect x="396.20" y="155.60" width="4.2" height="4.2" fill="url(#p2)" stroke="#444" stroke-width="0.8"/>
<text x="403.20" y="160.10" font-size="8.7" font-weight="bold" textLength="55.1" lengthAdjust="spacingAndGlyphs">dDCs : pCD4<tspan dy="-2.8" font-size="7.5">+</tspan><tspan dy="2.8" dx="0.8">T</tspan></text>
<rect x="396.20" y="164.60" width="4.6" height="4.6" fill="#fff" stroke="#444" stroke-width="0.8"/>
<text x="403.20" y="169.30" font-size="8.7" font-weight="bold" textLength="66.0" lengthAdjust="spacingAndGlyphs">Mo-DCs : dCD4<tspan dy="-2.8" font-size="7.5">+</tspan><tspan dy="2.8" dx="0.8">T</tspan></text>
<rect x="396.20" y="172.30" width="4.6" height="4.6" fill="url(#p4)" stroke="#444" stroke-width="0.8"/>
<text x="403.20" y="177.00" font-size="8.7" font-weight="bold" textLength="66.0" lengthAdjust="spacingAndGlyphs">Mo-DCs : pCD4<tspan dy="-2.8" font-size="7.5">+</tspan><tspan dy="2.8" dx="0.8">T</tspan></text>
<text x="277.40" y="233.70" font-size="10" font-weight="bold" font-style="normal" text-anchor="start" textLength="29.3" lengthAdjust="spacingAndGlyphs">rhTSLP</text>
<text x="277.40" y="245.20" font-size="10" font-weight="bold" font-style="normal" text-anchor="start" textLength="23.3" lengthAdjust="spacingAndGlyphs">rhIL-7</text>
<text x="286.50" y="256.70" font-size="10" font-weight="bold" font-style="normal" text-anchor="start" textLength="15.0" lengthAdjust="spacingAndGlyphs">LPS</text>
<line x1="332.10" y1="228.50" x2="336.90" y2="228.50" stroke="#333" stroke-width="1.0"/>
<line x1="332.10" y1="241.50" x2="336.90" y2="241.50" stroke="#333" stroke-width="1.0"/>
<line x1="332.10" y1="254.50" x2="336.90" y2="254.50" stroke="#333" stroke-width="1.0"/>
<line x1="384.10" y1="228.50" x2="388.90" y2="228.50" stroke="#333" stroke-width="1.0"/>
<line x1="386.50" y1="226.00" x2="386.50" y2="231.00" stroke="#333" stroke-width="1.0"/>
<line x1="384.10" y1="241.50" x2="388.90" y2="241.50" stroke="#333" stroke-width="1.0"/>
<line x1="384.10" y1="254.50" x2="388.90" y2="254.50" stroke="#333" stroke-width="1.0"/>
<line x1="438.10" y1="227.50" x2="442.90" y2="227.50" stroke="#333" stroke-width="1.0"/>
<line x1="438.10" y1="240.50" x2="442.90" y2="240.50" stroke="#333" stroke-width="1.0"/>
<line x1="440.50" y1="238.00" x2="440.50" y2="243.00" stroke="#333" stroke-width="1.0"/>
<line x1="438.10" y1="254.50" x2="442.90" y2="254.50" stroke="#333" stroke-width="1.0"/>
<line x1="491.10" y1="227.50" x2="495.90" y2="227.50" stroke="#333" stroke-width="1.0"/>
<line x1="491.10" y1="242.50" x2="495.90" y2="242.50" stroke="#333" stroke-width="1.0"/>
<line x1="491.10" y1="253.50" x2="495.90" y2="253.50" stroke="#333" stroke-width="1.0"/>
<line x1="493.50" y1="251.00" x2="493.50" y2="256.00" stroke="#333" stroke-width="1.0"/>
<rect x="53.00" y="353.90" width="10.20" height="8.10" fill="url(#p1)" stroke="#3c3c3c" stroke-width="0.95"/>
<line x1="58.10" y1="353.90" x2="58.10" y2="353.00" stroke="#3c3c3c" stroke-width="0.9"/>
<line x1="56.60" y1="353.00" x2="59.60" y2="353.00" stroke="#3c3c3c" stroke-width="0.9"/>
<rect x="63.20" y="338.70" width="10.20" height="23.30" fill="url(#p2)" stroke="#3c3c3c" stroke-width="0.95"/>
<line x1="68.30" y1="338.70" x2="68.30" y2="333.60" stroke="#3c3c3c" stroke-width="0.9"/>
<line x1="66.55" y1="333.60" x2="70.05" y2="333.60" stroke="#3c3c3c" stroke-width="0.9"/>
<rect x="73.40" y="355.70" width="10.20" height="6.30" fill="#fff" stroke="#3c3c3c" stroke-width="0.95"/>
<line x1="78.50" y1="355.70" x2="78.50" y2="355.20" stroke="#3c3c3c" stroke-width="0.9"/>
<line x1="77.00" y1="355.20" x2="80.00" y2="355.20" stroke="#3c3c3c" stroke-width="0.9"/>
<rect x="83.60" y="354.20" width="10.20" height="7.80" fill="url(#p4)" stroke="#3c3c3c" stroke-width="0.95"/>
<line x1="88.70" y1="354.20" x2="88.70" y2="352.40" stroke="#3c3c3c" stroke-width="0.9"/>
<line x1="86.95" y1="352.40" x2="90.45" y2="352.40" stroke="#3c3c3c" stroke-width="0.9"/>
<rect x="108.20" y="338.70" width="10.20" height="23.30" fill="url(#p1)" stroke="#3c3c3c" stroke-width="0.95"/>
<line x1="113.30" y1="338.70" x2="113.30" y2="334.00" stroke="#3c3c3c" stroke-width="0.9"/>
<line x1="111.55" y1="334.00" x2="115.05" y2="334.00" stroke="#3c3c3c" stroke-width="0.9"/>
<rect x="118.40" y="354.60" width="10.20" height="7.40" fill="url(#p2)" stroke="#3c3c3c" stroke-width="0.95"/>
<line x1="123.50" y1="354.60" x2="123.50" y2="352.40" stroke="#3c3c3c" stroke-width="0.9"/>
<line x1="121.75" y1="352.40" x2="125.25" y2="352.40" stroke="#3c3c3c" stroke-width="0.9"/>
<rect x="128.60" y="355.70" width="10.20" height="6.30" fill="#fff" stroke="#3c3c3c" stroke-width="0.95"/>
<line x1="133.70" y1="355.70" x2="133.70" y2="354.60" stroke="#3c3c3c" stroke-width="0.9"/>
<line x1="132.20" y1="354.60" x2="135.20" y2="354.60" stroke="#3c3c3c" stroke-width="0.9"/>
<rect x="138.80" y="358.60" width="10.20" height="3.40" fill="url(#p4)" stroke="#3c3c3c" stroke-width="0.75"/>
<line x1="143.90" y1="358.60" x2="143.90" y2="358.10" stroke="#3c3c3c" stroke-width="0.9"/>
<line x1="142.40" y1="358.10" x2="145.40" y2="358.10" stroke="#3c3c3c" stroke-width="0.9"/>
<rect x="162.20" y="352.30" width="10.20" height="9.70" fill="url(#p1)" stroke="#3c3c3c" stroke-width="0.95"/>
<line x1="167.30" y1="352.30" x2="167.30" y2="350.00" stroke="#3c3c3c" stroke-width="0.9"/>
<line x1="165.55" y1="350.00" x2="169.05" y2="350.00" stroke="#3c3c3c" stroke-width="0.9"/>
<rect x="172.40" y="343.80" width="10.20" height="18.20" fill="url(#p2)" stroke="#3c3c3c" stroke-width="0.95"/>
<line x1="177.50" y1="343.80" x2="177.50" y2="338.90" stroke="#3c3c3c" stroke-width="0.9"/>
<line x1="175.75" y1="338.90" x2="179.25" y2="338.90" stroke="#3c3c3c" stroke-width="0.9"/>
<rect x="182.60" y="348.80" width="10.20" height="13.20" fill="#fff" stroke="#3c3c3c" stroke-width="0.95"/>
<line x1="187.70" y1="348.80" x2="187.70" y2="345.40" stroke="#3c3c3c" stroke-width="0.9"/>
<line x1="185.95" y1="345.40" x2="189.45" y2="345.40" stroke="#3c3c3c" stroke-width="0.9"/>
<rect x="192.80" y="352.30" width="10.20" height="9.70" fill="url(#p4)" stroke="#3c3c3c" stroke-width="0.95"/>
<line x1="197.90" y1="352.30" x2="197.90" y2="349.50" stroke="#3c3c3c" stroke-width="0.9"/>
<line x1="196.15" y1="349.50" x2="199.65" y2="349.50" stroke="#3c3c3c" stroke-width="0.9"/>
<rect x="217.80" y="353.50" width="10.20" height="8.50" fill="url(#p1)" stroke="#3c3c3c" stroke-width="0.95"/>
<line x1="222.90" y1="353.50" x2="222.90" y2="352.30" stroke="#3c3c3c" stroke-width="0.9"/>
<line x1="221.40" y1="352.30" x2="224.40" y2="352.30" stroke="#3c3c3c" stroke-width="0.9"/>
<rect x="228.00" y="328.10" width="10.20" height="33.90" fill="url(#p2)" stroke="#3c3c3c" stroke-width="0.95"/>
<line x1="233.10" y1="328.10" x2="233.10" y2="320.50" stroke="#3c3c3c" stroke-width="0.9"/>
<line x1="231.35" y1="320.50" x2="234.85" y2="320.50" stroke="#3c3c3c" stroke-width="0.9"/>
<rect x="238.20" y="310.80" width="10.20" height="51.20" fill="#fff" stroke="#3c3c3c" stroke-width="0.95"/>
<line x1="243.30" y1="310.80" x2="243.30" y2="298.50" stroke="#3c3c3c" stroke-width="0.9"/>
<line x1="241.55" y1="298.50" x2="245.05" y2="298.50" stroke="#3c3c3c" stroke-width="0.9"/>
<rect x="248.40" y="310.00" width="10.20" height="52.00" fill="url(#p4)" stroke="#3c3c3c" stroke-width="0.95"/>
<line x1="253.50" y1="310.00" x2="253.50" y2="296.90" stroke="#3c3c3c" stroke-width="0.9"/>
<line x1="251.75" y1="296.90" x2="255.25" y2="296.90" stroke="#3c3c3c" stroke-width="0.9"/>
<line x1="46.30" y1="281.50" x2="46.30" y2="362.50" stroke="#3c3c3c" stroke-width="1.0"/>
<line x1="45.80" y1="362.00" x2="265.30" y2="362.00" stroke="#3c3c3c" stroke-width="1.0"/>
<line x1="46.30" y1="282.00" x2="49.90" y2="282.00" stroke="#3c3c3c" stroke-width="0.9"/>
<text x="38.70" y="285.50" font-size="10" font-weight="bold" font-style="normal" text-anchor="end" textLength="19.0" lengthAdjust="spacingAndGlyphs">2000</text>
<line x1="46.30" y1="302.20" x2="49.90" y2="302.20" stroke="#3c3c3c" stroke-width="0.9"/>
<text x="38.70" y="305.70" font-size="10" font-weight="bold" font-style="normal" text-anchor="end" textLength="19.0" lengthAdjust="spacingAndGlyphs">1500</text>
<line x1="46.30" y1="322.20" x2="49.90" y2="322.20" stroke="#3c3c3c" stroke-width="0.9"/>
<text x="38.70" y="325.70" font-size="10" font-weight="bold" font-style="normal" text-anchor="end" textLength="19.0" lengthAdjust="spacingAndGlyphs">1000</text>
<line x1="46.30" y1="342.30" x2="49.90" y2="342.30" stroke="#3c3c3c" stroke-width="0.9"/>
<text x="38.70" y="345.80" font-size="10" font-weight="bold" font-style="normal" text-anchor="end" textLength="14.2" lengthAdjust="spacingAndGlyphs">500</text>
<text x="38.70" y="365.50" font-size="10" font-weight="bold" font-style="normal" text-anchor="end" textLength="4.8" lengthAdjust="spacingAndGlyphs">0</text>
<line x1="100.90" y1="362.00" x2="100.90" y2="358.80" stroke="#3c3c3c" stroke-width="0.9"/>
<line x1="155.50" y1="362.00" x2="155.50" y2="358.80" stroke="#3c3c3c" stroke-width="0.9"/>
<line x1="210.30" y1="362.00" x2="210.30" y2="358.80" stroke="#3c3c3c" stroke-width="0.9"/>
<line x1="264.80" y1="362.00" x2="264.80" y2="358.80" stroke="#3c3c3c" stroke-width="0.9"/>
<text transform="translate(9.45,318.80) rotate(-90)" font-size="10.6" font-weight="bold" text-anchor="middle" textLength="65.6" lengthAdjust="spacingAndGlyphs">IL-10 (pg/mL)</text>
<rect x="140.60" y="281.40" width="79.90" height="35.80" fill="#fff" stroke="#3c3c3c" stroke-width="1"/>
<rect x="144.40" y="285.80" width="4.2" height="4.2" fill="url(#p1)" stroke="#444" stroke-width="0.8"/>
<text x="151.70" y="290.30" font-size="8.7" font-weight="bold" textLength="55.9" lengthAdjust="spacingAndGlyphs">dDCs : dCD4<tspan dy="-2.8" font-size="7.5">+</tspan><tspan dy="2.8" dx="0.8">T</tspan></text>
<rect x="144.40" y="292.85" width="4.2" height="4.2" fill="url(#p2)" stroke="#444" stroke-width="0.8"/>
<text x="151.70" y="297.35" font-size="8.7" font-weight="bold" textLength="55.9" lengthAdjust="spacingAndGlyphs">dDCs : pCD4<tspan dy="-2.8" font-size="7.5">+</tspan><tspan dy="2.8" dx="0.8">T</tspan></text>
<rect x="144.40" y="302.00" width="4.6" height="4.6" fill="#fff" stroke="#444" stroke-width="0.8"/>
<text x="151.70" y="306.70" font-size="8.7" font-weight="bold" textLength="67.0" lengthAdjust="spacingAndGlyphs">Mo-DCs : dCD4<tspan dy="-2.8" font-size="7.5">+</tspan><tspan dy="2.8" dx="0.8">T</tspan></text>
<rect x="144.40" y="309.65" width="4.6" height="4.6" fill="url(#p4)" stroke="#444" stroke-width="0.8"/>
<text x="151.70" y="314.35" font-size="8.7" font-weight="bold" textLength="67.0" lengthAdjust="spacingAndGlyphs">Mo-DCs : pCD4<tspan dy="-2.8" font-size="7.5">+</tspan><tspan dy="2.8" dx="0.8">T</tspan></text>
<polyline points="58.50,346.40 58.50,308.80 112.70,308.80 112.70,328.70" fill="none" stroke="#3c3c3c" stroke-width="0.9"/>
<text x="72.40" y="306.70" font-size="7" font-style="italic" font-weight="normal">P</text>
<text x="78.60" y="306.70" font-size="7" font-weight="normal" textLength="20.8" lengthAdjust="spacingAndGlyphs">= .0017</text>
<text x="14.00" y="375.70" font-size="10" font-weight="bold" font-style="normal" text-anchor="start" textLength="30.3" lengthAdjust="spacingAndGlyphs">rhTSLP</text>
<text x="14.00" y="387.20" font-size="10" font-weight="bold" font-style="normal" text-anchor="start" textLength="25.3" lengthAdjust="spacingAndGlyphs">rhIL-7</text>
<text x="22.70" y="398.20" font-size="10" font-weight="bold" font-style="normal" text-anchor="start" textLength="16.6" lengthAdjust="spacingAndGlyphs">LPS</text>
<line x1="70.10" y1="373.50" x2="74.90" y2="373.50" stroke="#333" stroke-width="1.0"/>
<line x1="70.10" y1="385.50" x2="74.90" y2="385.50" stroke="#333" stroke-width="1.0"/>
<line x1="70.10" y1="396.50" x2="74.90" y2="396.50" stroke="#333" stroke-width="1.0"/>
<line x1="126.10" y1="373.50" x2="130.90" y2="373.50" stroke="#333" stroke-width="1.0"/>
<line x1="128.50" y1="371.00" x2="128.50" y2="376.00" stroke="#333" stroke-width="1.0"/>
<line x1="126.10" y1="385.50" x2="130.90" y2="385.50" stroke="#333" stroke-width="1.0"/>
<line x1="126.10" y1="396.50" x2="130.90" y2="396.50" stroke="#333" stroke-width="1.0"/>
<line x1="181.10" y1="371.50" x2="185.90" y2="371.50" stroke="#333" stroke-width="1.0"/>
<line x1="181.10" y1="384.50" x2="185.90" y2="384.50" stroke="#333" stroke-width="1.0"/>
<line x1="183.50" y1="382.00" x2="183.50" y2="387.00" stroke="#333" stroke-width="1.0"/>
<line x1="181.10" y1="397.50" x2="185.90" y2="397.50" stroke="#333" stroke-width="1.0"/>
<line x1="238.10" y1="371.50" x2="242.90" y2="371.50" stroke="#333" stroke-width="1.0"/>
<line x1="238.10" y1="386.50" x2="242.90" y2="386.50" stroke="#333" stroke-width="1.0"/>
<line x1="238.10" y1="396.50" x2="242.90" y2="396.50" stroke="#333" stroke-width="1.0"/>
<line x1="240.50" y1="394.00" x2="240.50" y2="399.00" stroke="#333" stroke-width="1.0"/>
</g>
</svg></body></html>
